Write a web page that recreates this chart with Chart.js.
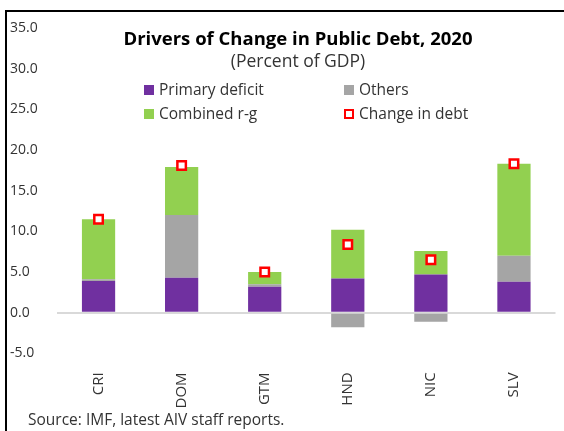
<!DOCTYPE html>
<html>
<head>
<meta charset="utf-8">
<script src="https://cdn.jsdelivr.net/npm/chart.js"></script>
<style>
    html, body { margin: 0; padding: 0; background: #fff; }
    #wrap { position: relative; width: 564px; height: 431px; }
</style>
</head>
<body>
<div id="wrap"><canvas id="chartDebt" width="564" height="431"></canvas></div>
<script>
const countries = ['CRI', 'DOM', 'GTM', 'HND', 'NIC', 'SLV'];
const primaryDeficit = [3.9, 4.3, 3.2, 4.2, 4.7, 3.8];
const others = [0.2, 7.7, 0.3, -1.8, -1.1, 3.2];
const combinedRG = [7.4, 5.9, 1.5, 6.0, 2.9, 11.3];
const changeInDebt = [11.5, 18.1, 5.0, 8.4, 6.5, 18.3];
const yMin = -5;
const yMax = 35;
const yStep = 5;

const FONT = '"Open Sans", "DejaVu Sans", sans-serif';
const TXT = '#333333';

// title, subtitle, legend, source and frame drawn over the plot (Excel style)
const overlay = {
    id: 'overlay',
    afterDraw(chart) {
        const ctx = chart.ctx;
        ctx.save();
        ctx.fillStyle = '#000';
        ctx.fillRect(5, 10, 2, 421);
        ctx.fillRect(5, 10, 559, 2);

        ctx.textAlign = 'center';
        ctx.textBaseline = 'middle';
        ctx.fillStyle = '#000';
        ctx.font = 'bold 18.5px ' + FONT;
        ctx.fillText('Drivers of Change in Public Debt, 2020', 298, 40);
        ctx.fillStyle = TXT;
        ctx.font = '17.5px ' + FONT;
        ctx.fillText('(Percent of GDP)', 298, 62);

        ctx.textAlign = 'left';
        ctx.font = '15.5px ' + FONT;
        chart.data.datasets.forEach((ds, i) => {
            const x = i % 2 === 0 ? 144 : 344;
            const y = i < 2 ? 90 : 114;
            if (ds.type === 'line') {
                ctx.strokeStyle = ds.borderColor;
                ctx.lineWidth = 2;
                ctx.fillStyle = '#fff';
                ctx.fillRect(x + 1, y - 4, 8, 8);
                ctx.strokeRect(x + 1, y - 4, 8, 8);
            } else {
                ctx.fillStyle = ds.backgroundColor;
                ctx.fillRect(x, y - 5, 10, 10);
            }
            ctx.fillStyle = TXT;
            ctx.fillText(ds.label, x + 15, y + 1);
        });

        ctx.font = '15.5px ' + FONT;
        ctx.fillText('Source: IMF, latest AIV staff reports.', 28, 421);
        ctx.restore();
    }
};

new Chart(document.getElementById('chartDebt'), {
    data: {
        labels: countries,
        datasets: [{
            type: 'bar',
            label: 'Primary deficit',
            data: primaryDeficit,
            backgroundColor: '#7030A0',
            stack: 'drivers',
            order: 1,
            barPercentage: 0.4,
            categoryPercentage: 1
        }, {
            type: 'bar',
            label: 'Others',
            data: others,
            backgroundColor: '#A5A5A5',
            stack: 'drivers',
            order: 1,
            barPercentage: 0.4,
            categoryPercentage: 1
        }, {
            type: 'bar',
            label: 'Combined r-g',
            data: combinedRG,
            backgroundColor: '#92D050',
            stack: 'drivers',
            order: 1,
            barPercentage: 0.4,
            categoryPercentage: 1
        }, {
            type: 'line',
            label: 'Change in debt',
            data: changeInDebt,
            showLine: false,
            stack: 'debt',
            order: 0,
            pointStyle: 'rect',
            pointRadius: 6,
            pointHoverRadius: 6,
            pointBorderWidth: 2.5,
            borderColor: '#FF0000',
            pointBackgroundColor: '#FFFFFF'
        }]
    },
    options: {
        responsive: false,
        animation: false,
        devicePixelRatio: 1,
        layout: { padding: { left: 10, right: 7, top: 28, bottom: 0 } },
        plugins: {
            legend: { display: false },
            title: { display: false },
            tooltip: { enabled: false }
        },
        scales: {
            x: {
                stacked: true,
                grid: { display: false },
                border: { display: false },
                ticks: {
                    autoSkip: false,
                    minRotation: 90,
                    maxRotation: 90,
                    padding: 11,
                    color: TXT,
                    font: { family: FONT, size: 15 }
                },
                afterFit: (scale) => { scale.height = 77.6; }
            },
            y: {
                stacked: true,
                min: yMin,
                max: yMax,
                grid: {
                    drawTicks: false,
                    lineWidth: 2,
                    color: (c) => (c.tick && c.tick.value === 0 ? '#D9D9D9' : 'rgba(0,0,0,0)')
                },
                border: { display: false },
                ticks: {
                    stepSize: yStep,
                    crossAlign: 'far',
                    color: TXT,
                    font: { family: FONT, size: 14 },
                    callback: (v) => v.toFixed(1)
                },
                afterFit: (scale) => { scale.width = 47; }
            }
        }
    },
    plugins: [overlay]
});
</script>
</body>
</html>
